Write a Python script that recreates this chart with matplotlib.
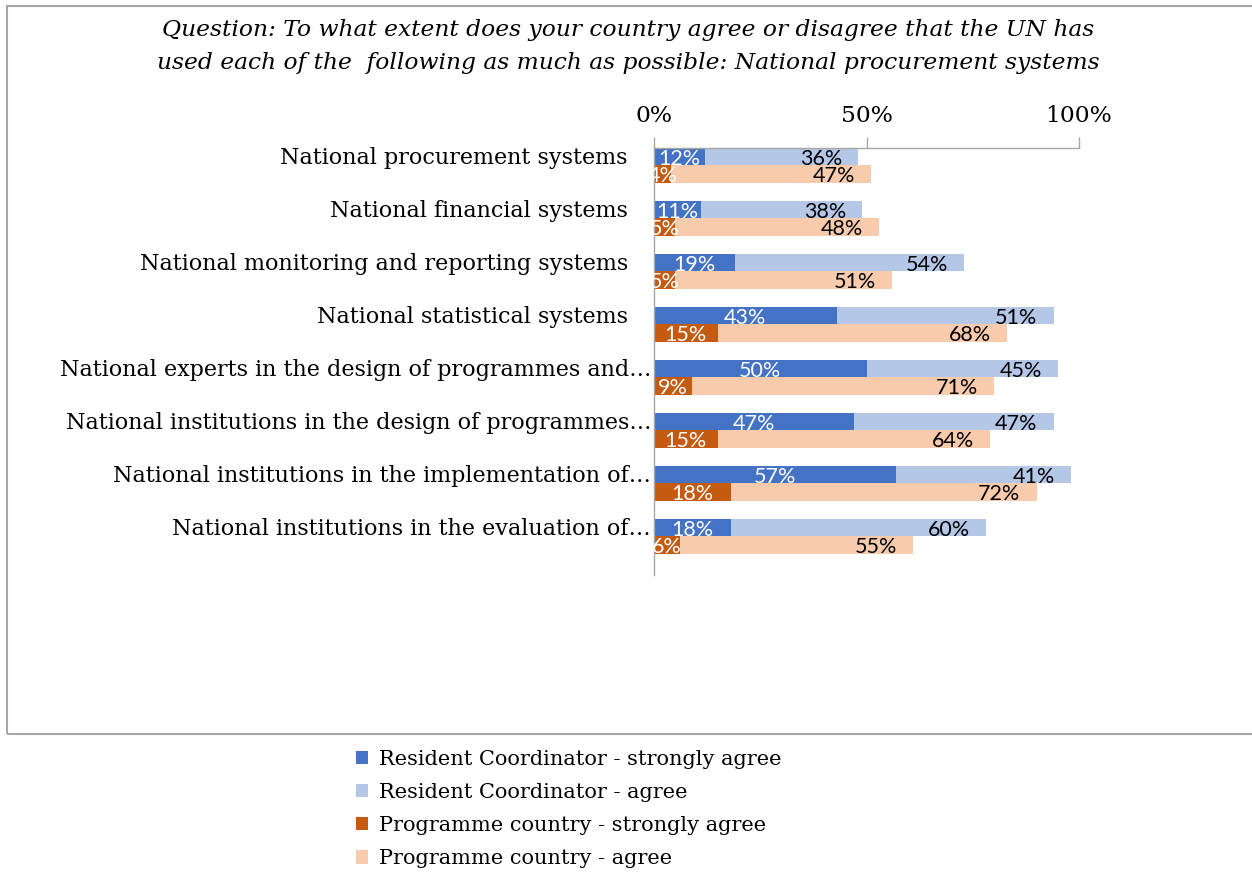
import numpy as np
import matplotlib
matplotlib.use('Agg')
import matplotlib.pyplot as plt
from matplotlib.patches import Rectangle, Patch

categories = [
    'National procurement systems',
    'National financial systems',
    'National monitoring and reporting systems',
    'National statistical systems',
    'National experts in the design of programmes and\u2026',
    'National institutions in the design of programmes\u2026',
    'National institutions in the implementation of\u2026',
    'National institutions in the evaluation of\u2026',
]
rc_strong = [12, 11, 19, 43, 50, 47, 57, 18]
rc_agree = [36, 38, 54, 51, 45, 47, 41, 60]
pc_strong = [4, 5, 5, 15, 9, 15, 18, 6]
pc_agree = [47, 48, 51, 68, 71, 64, 72, 55]

series_names = [
    'Resident Coordinator - strongly agree',
    'Resident Coordinator - agree',
    'Programme country - strongly agree',
    'Programme country - agree',
]
colors = ['#4472C4', '#B4C7E7', '#C55A11', '#F8CBAD']

title = ('Question: To what extent does your country agree or disagree that the UN has\n'
         'used each of the  following as much as possible: National procurement systems')

serif = 'DejaVu Serif'
sans = 'Lato'

W, H = 1252, 873
fig = plt.figure(figsize=(W / 100, H / 100), dpi=100)
ax = fig.add_axes([654 / W, 1 - 575 / H, (1079 - 654) / W, (575 - 148) / H])

# chart border
fig.patches.append(Rectangle((7 / W, 1 - 734 / H), 1.2, (734 - 6) / H,
                             transform=fig.transFigure, fill=False,
                             edgecolor='#A6A6A6', linewidth=1.5))

y = np.arange(len(categories))
bh = 0.33
y_rc = y - bh / 2
y_pc = y + bh / 2

rc_s = np.array(rc_strong)
rc_a = np.array(rc_agree)
pc_s = np.array(pc_strong)
pc_a = np.array(pc_agree)

ax.barh(y_rc, rc_s, height=bh, color=colors[0], linewidth=0)
ax.barh(y_rc, rc_a, left=rc_s, height=bh, color=colors[1], linewidth=0)
ax.barh(y_pc, pc_s, height=bh, color=colors[2], linewidth=0)
ax.barh(y_pc, pc_a, left=pc_s, height=bh, color=colors[3], linewidth=0)

lab_kw = dict(fontsize=15.5, family=sans, va='center')
for i in range(len(categories)):
    ax.text(rc_s[i] / 2, y_rc[i] + 0.04, f'{rc_s[i]}%', color='white', ha='center', **lab_kw)
    ax.annotate(f'{rc_a[i]}%', (rc_s[i] + rc_a[i], y_rc[i] + 0.04), xytext=(-11.5, 0),
                textcoords='offset points', color='black', ha='right', **lab_kw)
    ax.text(pc_s[i] / 2, y_pc[i] + 0.04, f'{pc_s[i]}%', color='white', ha='center', **lab_kw)
    ax.annotate(f'{pc_a[i]}%', (pc_s[i] + pc_a[i], y_pc[i] + 0.04), xytext=(-11.5, 0),
                textcoords='offset points', color='black', ha='right', **lab_kw)

ax.set_xlim(0, 100)
ax.set_ylim(len(categories) - 1 + 0.73, -bh)
ax.xaxis.tick_top()
ax.set_xticks([0, 50, 100])
ax.set_xticklabels(['0%', '50%', '100%'], fontsize=16.8, family=serif)
ax.tick_params(axis='x', length=8, width=1, color='#A6A6A6', pad=7)
ax.set_yticks([])
# category labels (truncated ones sit a little further right, as in the source)
for i, c in enumerate(categories):
    off = -3 if c.endswith('\u2026') else -26
    ax.annotate(c, (0, y_rc[i] + 0.02), xycoords=('axes fraction', 'data'), xytext=(off * 0.72, 0),
                textcoords='offset points', ha='right', va='center', fontsize=16,
                family=serif)
for s in ['right', 'bottom']:
    ax.spines[s].set_visible(False)
for s in ['top', 'left']:
    ax.spines[s].set_color('#A6A6A6')
    ax.spines[s].set_linewidth(1)

fig.text(628 / W, 1 - 46.5 / H, title, ha='center', va='center', fontsize=16.8,
         family=serif, style='italic', linespacing=1.62)

handles = [Patch(facecolor=c, edgecolor='none') for c in colors]
fig.legend(handles, series_names, loc='upper left', bbox_to_anchor=(337 / W, 1 - 731 / H),
           frameon=False, prop={'family': serif, 'size': 15}, handlelength=0.6,
           handleheight=0.6, handletextpad=0.5, labelspacing=0.68)

fig.savefig('out.png', dpi=100)
